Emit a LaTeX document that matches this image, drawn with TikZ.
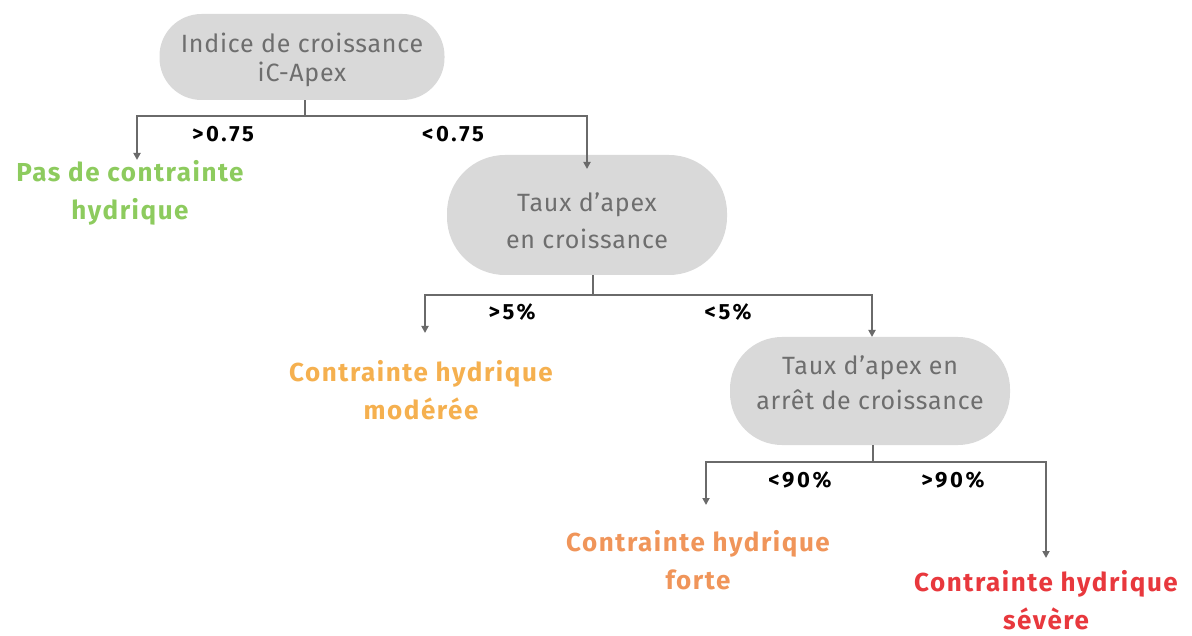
\documentclass[tikz,border=0pt]{standalone}
\usepackage{fontspec}
\setmainfont{Fira Sans}
\usetikzlibrary{arrows.meta}
\definecolor{nodefill}{HTML}{D9D9D9}
\definecolor{nodetext}{HTML}{6E6E6E}
\definecolor{linegray}{HTML}{6A6A6A}
\definecolor{cgreen}{HTML}{8DCB5E}
\definecolor{cyellow}{HTML}{F5B04F}
\definecolor{corange}{HTML}{F0955A}
\definecolor{cred}{HTML}{E8383D}
\tikzset{
  decision/.style={fill=nodefill, rounded corners=42pt, align=center, text=nodetext,
    font=\fontsize{25}{29}\selectfont\addfontfeature{LetterSpace=3}, inner sep=0pt},
  outcome/.style={align=center, font=\fontsize{26}{38}\selectfont\bfseries\addfontfeature{LetterSpace=6}},
  cond/.style={font=\fontsize{22}{24}\selectfont\bfseries\addfontfeature{LetterSpace=12}, text=black},
  conn/.style={draw=linegray, line width=2pt},
  arr/.style={conn, -{Triangle[length=7pt,width=7pt]}}
}
\begin{document}
\begin{tikzpicture}[x=1pt,y=-1pt]
\useasboundingbox (0,0) rectangle (1192,636);
% decision nodes
\node[decision, minimum width=285pt, minimum height=86pt] (n1) at (302,57) {\rule{0pt}{25pt}Indice de croissance\\iC-Apex};
\node[decision, minimum width=280pt, minimum height=120pt, rounded corners=58pt] (n2) at (587,215) {\rule{0pt}{31pt}Taux d'apex\\[8pt]en croissance};
\node[decision, minimum width=280pt, minimum height=108pt, rounded corners=52pt] (n3) at (870,391) {Taux d'apex en\\[6pt]arrêt de croissance\rule[-16pt]{0pt}{16pt}};
% outcomes
\node[outcome, text=cgreen] (o1) at (130,193) {Pas de contrainte\\hydrique};
\node[outcome, text=cyellow] (o2) at (421,390) {Contrainte hydrique\\modérée};
\node[outcome, text=corange] (o3) at (698,560) {Contrainte hydrique\\forte};
\node[outcome, text=cred] (o4) at (1046,600) {Contrainte hydrique\\sévère};
% junction coordinates
\coordinate (j1) at (305,116);
\coordinate (l1) at (137,116);
\coordinate (r1) at (587,116);
\coordinate (e1) at (137,160);
\coordinate (f1) at (587,169);
\coordinate (j2) at (593,295);
\coordinate (l2) at (425,295);
\coordinate (r2) at (872,295);
\coordinate (e2) at (425,333);
\coordinate (f2) at (872,337);
\coordinate (j3) at (873,462);
\coordinate (l3) at (706,462);
\coordinate (r3) at (1046,462);
\coordinate (e3) at (706,505);
\coordinate (f3) at (1046,558);
% connectors
\draw[conn] (n1.south -| j1) -- (j1);
\draw[arr] (j1) -- (l1) -- (e1);
\draw[arr] (j1) -- (r1) -- (f1);
\draw[conn] (n2.south -| j2) -- (j2);
\draw[arr] (j2) -- (l2) -- (e2);
\draw[arr] (j2) -- (r2) -- (f2);
\draw[conn] (n3.south -| j3) -- (j3);
\draw[arr] (j3) -- (l3) -- (e3);
\draw[arr] (j3) -- (r3) -- (f3);
% condition labels
\node[cond] (c1) at (223,134) {>0.75};
\node[cond] (c2) at (453,134) {<0.75};
\node[cond] (c3) at (512,312) {>5\%};
\node[cond] (c4) at (728,312) {<5\%};
\node[cond] (c5) at (800,480) {<90\%};
\node[cond] (c6) at (953,480) {>90\%};
\end{tikzpicture}
\end{document}
